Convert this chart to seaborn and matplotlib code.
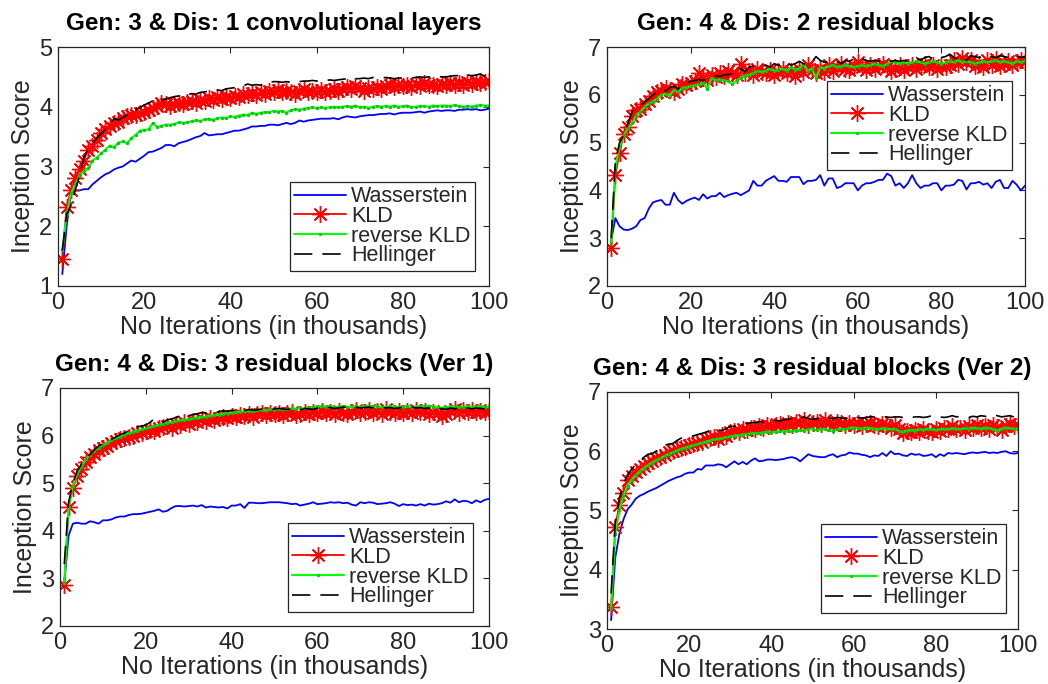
import numpy as np
import pandas as pd
import matplotlib
matplotlib.use("Agg")
import matplotlib.pyplot as plt
import seaborn as sns

# ---------------- data ----------------
iters = list(range(1, 101))
series_names = ["Wasserstein", "KLD", "reverse KLD", "Hellinger"]
titles = [
    "Gen: 3 & Dis: 1 convolutional layers",
    "Gen: 4 & Dis: 2 residual blocks",
    "Gen: 4 & Dis: 3 residual blocks (Ver 1)",
    "Gen: 4 & Dis: 3 residual blocks (Ver 2)",
]
y_limits = [(1, 5), (2, 7), (2, 7), (3, 7)]
x_ticks = [0, 20, 40, 60, 80, 100]

p1_wass = [1.20, 2.00, 2.55, 2.60, 2.60, 2.62, 2.62, 2.70, 2.76, 2.82,
           2.87, 2.90, 2.95, 2.98, 3.00, 3.05, 3.10, 3.08, 3.13, 3.18,
           3.24, 3.25, 3.28, 3.31, 3.36, 3.36, 3.34, 3.39, 3.41, 3.43,
           3.46, 3.49, 3.51, 3.56, 3.52, 3.53, 3.54, 3.54, 3.56, 3.58,
           3.60, 3.60, 3.62, 3.64, 3.67, 3.67, 3.68, 3.68, 3.70, 3.70,
           3.69, 3.71, 3.73, 3.71, 3.73, 3.77, 3.75, 3.77, 3.78, 3.79,
           3.80, 3.80, 3.80, 3.81, 3.79, 3.82, 3.84, 3.83, 3.82, 3.84,
           3.85, 3.86, 3.86, 3.87, 3.88, 3.88, 3.89, 3.87, 3.89, 3.90,
           3.90, 3.90, 3.91, 3.92, 3.90, 3.92, 3.93, 3.94, 3.93, 3.94,
           3.94, 3.93, 3.95, 3.95, 3.96, 3.95, 3.96, 3.94, 3.95, 3.97]
p1_kld = [1.45, 2.33, 2.60, 2.80, 2.96, 3.10, 3.28, 3.35, 3.45, 3.56,
          3.62, 3.67, 3.72, 3.75, 3.82, 3.84, 3.86, 3.87, 3.90, 3.92,
          3.95, 3.98, 4.02, 4.06, 4.04, 4.02, 4.05, 4.07, 4.04, 4.08,
          4.10, 4.06, 4.12, 4.09, 4.14, 4.11, 4.16, 4.13, 4.17, 4.15,
          4.18, 4.16, 4.22, 4.19, 4.23, 4.20, 4.24, 4.22, 4.27, 4.25,
          4.28, 4.24, 4.27, 4.25, 4.22, 4.27, 4.30, 4.24, 4.27, 4.25,
          4.28, 4.24, 4.27, 4.29, 4.26, 4.29, 4.33, 4.30, 4.34, 4.31,
          4.27, 4.32, 4.30, 4.33, 4.30, 4.35, 4.36, 4.33, 4.37, 4.34,
          4.36, 4.33, 4.38, 4.35, 4.39, 4.36, 4.37, 4.34, 4.38, 4.36,
          4.39, 4.37, 4.40, 4.37, 4.41, 4.38, 4.42, 4.39, 4.42, 4.43]
p1_rkld = [1.60, 2.20, 2.55, 2.70, 2.85, 2.93, 2.97, 3.10, 3.15, 3.22,
           3.28, 3.35, 3.32, 3.40, 3.42, 3.39, 3.47, 3.53, 3.60, 3.61,
           3.62, 3.73, 3.66, 3.68, 3.70, 3.70, 3.71, 3.74, 3.73, 3.74,
           3.76, 3.77, 3.76, 3.79, 3.80, 3.78, 3.81, 3.82, 3.81, 3.84,
           3.83, 3.85, 3.87, 3.86, 3.90, 3.88, 3.90, 3.91, 3.91, 3.93,
           3.92, 3.93, 3.90, 3.94, 3.96, 3.95, 3.97, 3.98, 3.99, 3.98,
           3.99, 3.98, 3.99, 4.00, 3.99, 4.00, 4.01, 4.00, 4.02, 3.99,
           4.00, 3.98, 4.00, 4.01, 4.00, 4.01, 4.00, 4.02, 4.00, 4.01,
           4.02, 3.99, 4.00, 4.01, 4.01, 4.00, 4.02, 4.01, 4.02, 4.02,
           4.01, 4.03, 4.01, 4.00, 4.01, 4.00, 4.02, 4.03, 4.02, 4.02]
p1_hell = [1.60, 2.20, 2.35, 2.60, 2.85, 3.15, 3.30, 3.38, 3.48, 3.55,
           3.62, 3.70, 3.80, 3.78, 3.82, 3.86, 3.93, 3.95, 3.98, 4.03,
           4.06, 4.10, 4.10, 4.12, 4.13, 4.15, 4.17, 4.18, 4.18, 4.20,
           4.22, 4.21, 4.24, 4.25, 4.26, 4.27, 4.28, 4.27, 4.30, 4.31,
           4.32, 4.33, 4.35, 4.38, 4.36, 4.37, 4.36, 4.40, 4.41, 4.42,
           4.42, 4.41, 4.42, 4.41, 4.43, 4.42, 4.43, 4.43, 4.44, 4.43,
           4.44, 4.43, 4.45, 4.44, 4.45, 4.46, 4.47, 4.46, 4.47, 4.47,
           4.48, 4.47, 4.49, 4.48, 4.48, 4.49, 4.48, 4.47, 4.48, 4.48,
           4.49, 4.48, 4.49, 4.50, 4.49, 4.50, 4.50, 4.51, 4.50, 4.50,
           4.51, 4.52, 4.52, 4.51, 4.53, 4.52, 4.53, 4.55, 4.51, 4.52]

p2_wass = [2.95, 3.42, 3.25, 3.18, 3.17, 3.20, 3.25, 3.38, 3.42, 3.62,
           3.75, 3.78, 3.80, 3.70, 3.70, 3.95, 3.80, 3.72, 3.78, 3.82,
           3.85, 3.80, 3.92, 3.83, 3.88, 3.88, 3.95, 3.86, 3.90, 3.93,
           3.95, 3.90, 3.95, 4.00, 4.20, 4.10, 4.10, 4.20, 4.25, 4.30,
           4.20, 4.20, 4.18, 4.28, 4.28, 4.28, 4.13, 4.20, 4.20, 4.22,
           4.32, 4.10, 4.25, 4.25, 4.05, 4.08, 4.15, 4.15, 4.15, 4.00,
           4.10, 4.15, 4.15, 4.18, 4.22, 4.22, 4.35, 4.30, 4.10, 4.15,
           4.05, 4.15, 4.32, 4.15, 4.05, 4.10, 4.10, 4.15, 4.15, 4.00,
           4.10, 4.10, 4.12, 4.22, 4.20, 4.02, 4.15, 4.15, 4.18, 4.12,
           4.15, 4.05, 4.18, 4.22, 4.05, 4.05, 4.20, 4.12, 4.00, 4.10]
p2_kld = [2.80, 4.33, 4.78, 5.18, 5.32, 5.55, 5.68, 5.70, 5.80, 5.87,
          5.97, 6.05, 6.08, 6.15, 6.10, 6.05, 6.12, 6.22, 6.20, 6.25,
          6.28, 6.45, 6.35, 6.30, 6.42, 6.38, 6.45, 6.40, 6.50, 6.45,
          6.42, 6.65, 6.45, 6.50, 6.42, 6.55, 6.48, 6.45, 6.52, 6.42,
          6.48, 6.55, 6.45, 6.50, 6.40, 6.55, 6.48, 6.62, 6.52, 6.45,
          6.55, 6.48, 6.62, 6.50, 6.58, 6.65, 6.55, 6.52, 6.60, 6.68,
          6.58, 6.52, 6.62, 6.55, 6.60, 6.65, 6.58, 6.50, 6.55, 6.62,
          6.52, 6.58, 6.62, 6.55, 6.60, 6.65, 6.58, 6.62, 6.55, 6.60,
          6.58, 6.62, 6.72, 6.65, 6.78, 6.68, 6.72, 6.60, 6.65, 6.58,
          6.72, 6.62, 6.75, 6.60, 6.65, 6.70, 6.62, 6.68, 6.72, 6.68]
p2_rkld = [2.90, 4.50, 4.90, 5.15, 5.30, 5.40, 5.58, 5.65, 5.75, 5.82,
           5.85, 5.92, 6.00, 6.02, 5.98, 6.10, 6.05, 6.15, 6.15, 6.18,
           6.20, 6.22, 6.25, 6.12, 6.35, 6.30, 6.32, 6.30, 6.28, 6.22,
           6.30, 6.35, 6.40, 6.42, 6.45, 6.50, 6.48, 6.50, 6.55, 6.50,
           6.52, 6.55, 6.50, 6.58, 6.52, 6.55, 6.65, 6.50, 6.55, 6.35,
           6.58, 6.55, 6.60, 6.62, 6.58, 6.60, 6.62, 6.60, 6.58, 6.60,
           6.62, 6.60, 6.62, 6.65, 6.62, 6.60, 6.65, 6.70, 6.68, 6.65,
           6.68, 6.65, 6.68, 6.70, 6.68, 6.65, 6.68, 6.70, 6.68, 6.65,
           6.68, 6.70, 6.68, 6.72, 6.68, 6.70, 6.68, 6.65, 6.68, 6.70,
           6.68, 6.70, 6.72, 6.68, 6.70, 6.68, 6.65, 6.70, 6.68, 6.70]
p2_hell = [3.00, 4.60, 5.00, 5.15, 5.40, 5.65, 5.70, 5.78, 5.85, 5.92,
           6.00, 6.05, 6.12, 6.08, 6.15, 6.18, 6.12, 6.22, 6.25, 6.28,
           6.30, 6.32, 6.30, 6.35, 6.38, 6.40, 6.38, 6.42, 6.42, 6.45,
           6.42, 6.55, 6.48, 6.58, 6.60, 6.58, 6.60, 6.62, 6.58, 6.65,
           6.62, 6.65, 6.68, 6.62, 6.65, 6.70, 6.65, 6.62, 6.68, 6.80,
           6.72, 6.68, 6.70, 6.72, 6.70, 6.65, 6.72, 6.70, 6.75, 6.72,
           6.75, 6.72, 6.70, 6.72, 6.70, 6.72, 6.75, 6.70, 6.72, 6.70,
           6.72, 6.70, 6.75, 6.78, 6.72, 6.78, 6.80, 6.75, 6.72, 6.78,
           6.80, 6.85, 6.78, 6.75, 6.80, 6.72, 6.82, 6.80, 6.78, 6.80,
           6.82, 6.80, 6.78, 6.82, 6.80, 6.78, 6.80, 6.82, 6.78, 6.80]

p3_wass = [2.90, 3.90, 4.15, 4.17, 4.15, 4.15, 4.20, 4.18, 4.15, 4.22,
           4.22, 4.24, 4.28, 4.30, 4.30, 4.33, 4.35, 4.35, 4.36, 4.38,
           4.40, 4.42, 4.45, 4.40, 4.42, 4.48, 4.52, 4.52, 4.51, 4.52,
           4.53, 4.51, 4.54, 4.49, 4.51, 4.50, 4.49, 4.50, 4.47, 4.53,
           4.53, 4.56, 4.48, 4.59, 4.59, 4.58, 4.58, 4.59, 4.60, 4.60,
           4.60, 4.59, 4.58, 4.56, 4.57, 4.53, 4.55, 4.57, 4.60, 4.56,
           4.57, 4.58, 4.60, 4.59, 4.60, 4.58, 4.59, 4.55, 4.53, 4.60,
           4.58, 4.60, 4.59, 4.56, 4.57, 4.58, 4.60, 4.57, 4.52, 4.56,
           4.54, 4.55, 4.53, 4.56, 4.53, 4.57, 4.55, 4.56, 4.58, 4.62,
           4.59, 4.66, 4.60, 4.63, 4.62, 4.58, 4.64, 4.60, 4.65, 4.67]
p3_kld = [2.87, 4.50, 4.90, 5.15, 5.30, 5.45, 5.55, 5.62, 5.70, 5.75,
          5.78, 5.85, 5.88, 5.92, 5.95, 5.98, 6.00, 6.05, 6.06, 6.10,
          6.12, 6.10, 6.16, 6.18, 6.20, 6.17, 6.24, 6.22, 6.28, 6.25,
          6.30, 6.28, 6.34, 6.31, 6.38, 6.33, 6.37, 6.40, 6.36, 6.42,
          6.40, 6.44, 6.41, 6.46, 6.40, 6.45, 6.48, 6.43, 6.47, 6.45,
          6.48, 6.44, 6.47, 6.50, 6.43, 6.46, 6.49, 6.45, 6.50, 6.47,
          6.52, 6.48, 6.50, 6.46, 6.52, 6.48, 6.45, 6.50, 6.53, 6.47,
          6.50, 6.54, 6.48, 6.52, 6.46, 6.55, 6.50, 6.47, 6.52, 6.48,
          6.51, 6.47, 6.53, 6.49, 6.52, 6.46, 6.50, 6.48, 6.42, 6.45,
          6.52, 6.55, 6.48, 6.53, 6.50, 6.54, 6.49, 6.52, 6.50, 6.52]
p3_rkld = [2.90, 4.50, 4.95, 5.20, 5.35, 5.50, 5.60, 5.68, 5.75, 5.80,
           5.85, 5.90, 5.95, 5.98, 6.02, 6.05, 6.08, 6.10, 6.13, 6.15,
           6.18, 6.20, 6.22, 6.25, 6.27, 6.28, 6.30, 6.32, 6.33, 6.35,
           6.36, 6.38, 6.39, 6.40, 6.42, 6.43, 6.44, 6.46, 6.47, 6.48,
           6.49, 6.50, 6.51, 6.52, 6.52, 6.53, 6.54, 6.53, 6.55, 6.55,
           6.56, 6.55, 6.56, 6.57, 6.56, 6.58, 6.57, 6.58, 6.60, 6.62,
           6.62, 6.61, 6.62, 6.60, 6.61, 6.62, 6.60, 6.61, 6.62, 6.60,
           6.62, 6.63, 6.61, 6.62, 6.60, 6.61, 6.62, 6.61, 6.60, 6.61,
           6.62, 6.60, 6.61, 6.62, 6.62, 6.63, 6.61, 6.60, 6.58, 6.60,
           6.61, 6.62, 6.60, 6.61, 6.62, 6.60, 6.61, 6.62, 6.60, 6.61]
p3_hell = [3.30, 4.60, 5.00, 5.25, 5.40, 5.52, 5.60, 5.70, 5.78, 5.83,
           5.88, 5.92, 5.97, 6.02, 6.05, 6.10, 6.15, 6.18, 6.20, 6.22,
           6.28, 6.35, 6.30, 6.28, 6.33, 6.35, 6.38, 6.42, 6.40, 6.42,
           6.44, 6.46, 6.48, 6.48, 6.47, 6.48, 6.50, 6.52, 6.51, 6.53,
           6.52, 6.54, 6.52, 6.55, 6.53, 6.54, 6.56, 6.55, 6.54, 6.56,
           6.57, 6.56, 6.55, 6.57, 6.56, 6.54, 6.57, 6.56, 6.55, 6.58,
           6.60, 6.58, 6.59, 6.57, 6.58, 6.60, 6.59, 6.58, 6.60, 6.58,
           6.59, 6.60, 6.58, 6.59, 6.60, 6.58, 6.59, 6.57, 6.58, 6.60,
           6.59, 6.60, 6.58, 6.59, 6.57, 6.58, 6.55, 6.58, 6.56, 6.55,
           6.58, 6.56, 6.59, 6.57, 6.58, 6.56, 6.58, 6.57, 6.56, 6.57]

p4_wass = [3.15, 4.20, 4.60, 4.85, 5.02, 5.10, 5.20, 5.25, 5.28, 5.32,
           5.35, 5.38, 5.42, 5.46, 5.50, 5.53, 5.56, 5.58, 5.62, 5.64,
           5.64, 5.70, 5.69, 5.76, 5.76, 5.76, 5.78, 5.77, 5.73, 5.78,
           5.83, 5.78, 5.82, 5.78, 5.84, 5.88, 5.83, 5.84, 5.86, 5.86,
           5.85, 5.86, 5.87, 5.89, 5.90, 5.88, 5.83, 5.89, 5.95, 5.92,
           5.91, 5.90, 5.90, 5.93, 5.95, 5.90, 5.93, 5.94, 5.98, 5.96,
           5.96, 5.94, 5.93, 5.90, 5.93, 5.92, 5.97, 5.92, 6.00, 5.95,
           5.96, 5.93, 5.92, 5.96, 5.94, 5.95, 5.92, 5.93, 5.95, 5.90,
           5.95, 5.92, 5.97, 5.96, 5.97, 5.96, 5.95, 5.97, 5.98, 5.97,
           5.98, 5.99, 5.97, 5.98, 5.97, 5.99, 6.00, 5.97, 5.96, 5.97]
p4_kld = [3.37, 4.72, 5.10, 5.30, 5.52, 5.58, 5.65, 5.70, 5.75, 5.80,
          5.84, 5.88, 5.90, 5.94, 5.98, 6.00, 6.03, 6.06, 6.08, 6.10,
          6.12, 6.14, 6.16, 6.20, 6.22, 6.24, 6.20, 6.28, 6.25, 6.32,
          6.35, 6.33, 6.38, 6.36, 6.40, 6.38, 6.42, 6.40, 6.45, 6.42,
          6.44, 6.46, 6.42, 6.48, 6.45, 6.50, 6.47, 6.52, 6.45, 6.48,
          6.50, 6.46, 6.52, 6.48, 6.45, 6.50, 6.47, 6.44, 6.48, 6.45,
          6.47, 6.43, 6.46, 6.48, 6.45, 6.42, 6.46, 6.44, 6.40, 6.45,
          6.38, 6.30, 6.34, 6.32, 6.36, 6.33, 6.38, 6.35, 6.33, 6.37,
          6.35, 6.40, 6.37, 6.42, 6.38, 6.40, 6.36, 6.42, 6.39, 6.44,
          6.40, 6.43, 6.38, 6.45, 6.41, 6.36, 6.42, 6.46, 6.43, 6.44]
p4_rkld = [3.35, 4.60, 5.00, 5.25, 5.42, 5.52, 5.60, 5.66, 5.72, 5.77,
           5.81, 5.85, 5.88, 5.92, 5.95, 5.98, 6.01, 6.04, 6.06, 6.08,
           6.10, 6.12, 6.14, 6.16, 6.18, 6.20, 6.21, 6.22, 6.24, 6.25,
           6.26, 6.27, 6.28, 6.29, 6.30, 6.31, 6.30, 6.32, 6.33, 6.32,
           6.33, 6.34, 6.33, 6.35, 6.34, 6.35, 6.36, 6.35, 6.37, 6.38,
           6.36, 6.37, 6.38, 6.36, 6.34, 6.37, 6.38, 6.37, 6.39, 6.40,
           6.39, 6.38, 6.40, 6.39, 6.38, 6.37, 6.39, 6.38, 6.37, 6.38,
           6.34, 6.32, 6.35, 6.36, 6.35, 6.37, 6.36, 6.38, 6.37, 6.36,
           6.37, 6.38, 6.37, 6.39, 6.38, 6.37, 6.39, 6.38, 6.40, 6.39,
           6.38, 6.40, 6.39, 6.37, 6.35, 6.38, 6.40, 6.39, 6.38, 6.38]
p4_hell = [3.60, 4.80, 5.20, 5.45, 5.60, 5.70, 5.78, 5.82, 5.90, 5.95,
           5.96, 6.00, 6.05, 6.10, 6.12, 6.13, 6.18, 6.22, 6.23, 6.25,
           6.26, 6.28, 6.30, 6.32, 6.35, 6.38, 6.36, 6.35, 6.38, 6.42,
           6.42, 6.43, 6.45, 6.47, 6.48, 6.48, 6.50, 6.49, 6.51, 6.50,
           6.52, 6.51, 6.53, 6.54, 6.55, 6.57, 6.56, 6.58, 6.55, 6.54,
           6.55, 6.56, 6.55, 6.56, 6.55, 6.57, 6.56, 6.55, 6.57, 6.58,
           6.57, 6.56, 6.57, 6.58, 6.58, 6.57, 6.58, 6.58, 6.57, 6.58,
           6.58, 6.57, 6.58, 6.57, 6.58, 6.58, 6.57, 6.58, 6.60, 6.59,
           6.58, 6.57, 6.58, 6.60, 6.58, 6.59, 6.58, 6.57, 6.59, 6.58,
           6.60, 6.59, 6.58, 6.61, 6.60, 6.58, 6.59, 6.60, 6.58, 6.58]

panels = [
    (p1_wass, p1_kld, p1_rkld, p1_hell),
    (p2_wass, p2_kld, p2_rkld, p2_hell),
    (p3_wass, p3_kld, p3_rkld, p3_hell),
    (p4_wass, p4_kld, p4_rkld, p4_hell),
]

# ---------------- style ----------------
sns.set_theme(style="white")
plt.rcParams["font.family"] = ["Liberation Sans", "DejaVu Sans"]
DARK = "#262626"
plt.rcParams.update({
    "axes.edgecolor": DARK,
    "axes.labelcolor": DARK,
    "xtick.color": DARK,
    "ytick.color": DARK,
    "text.color": DARK,
    "axes.linewidth": 0.9,
})

W, H = 1048, 684
fig = plt.figure(figsize=(W / 100, H / 100), dpi=100)

# axes boxes in pixels: left, top, right, bottom
boxes = [(58, 47, 489, 286), (607, 47, 1025, 286),
         (60, 388, 489, 626), (607, 392, 1018, 629)]
# legend upper-left corners in pixels
leg_pos = [(290, 182), (827, 81), (288, 523), (821, 524)]

styles = [
    dict(color=(0, 0, 1), lw=1.3),
    dict(color=(1, 0, 0), lw=1.3, marker=(8, 2, 0), markersize=12,
         markeredgewidth=1.0, markeredgecolor=(1, 0, 0)),
    dict(color=(0, 1, 0), lw=1.5, marker="o", markersize=2.4,
         markeredgewidth=0, markerfacecolor=(0, 0.8, 0)),
    dict(color="black", lw=1.2, linestyle=(0, (11, 6))),
]

for i, (vals, title, ylim, box, lp) in enumerate(
        zip(panels, titles, y_limits, boxes, leg_pos)):
    l, t, r, b = box
    ax = fig.add_axes([l / W, 1 - b / H, (r - l) / W, (b - t) / H])
    for name, yv, st in zip(series_names, vals, styles):
        sns.lineplot(x=iters, y=yv, ax=ax, label=name, legend=False,
                     estimator=None, **st)
    ax.set_xlim(0, 100)
    ax.set_ylim(*ylim)
    ax.set_xticks(x_ticks)
    ax.set_yticks(np.arange(ylim[0], ylim[1] + 1, 1))
    ax.tick_params(direction="in", top=True, right=True, length=4,
                   width=0.8, labelsize=17, pad=4)
    for s in ax.spines.values():
        s.set_visible(True)
        s.set_color(DARK)
    ax.set_xlabel("No Iterations (in thousands)", fontsize=18, labelpad=1)
    ax.set_ylabel("Inception Score", fontsize=18, labelpad=3)
    ax.set_title(title, fontsize=17.5, fontweight="bold", color="black", pad=12)
    leg = ax.legend(loc="upper left",
                    bbox_to_anchor=(lp[0] / W, 1 - lp[1] / H),
                    bbox_transform=fig.transFigure,
                    borderaxespad=0, fontsize=15.5, frameon=True,
                    fancybox=False, framealpha=1, edgecolor=DARK,
                    handlelength=2.4, handletextpad=0.25,
                    labelspacing=-0.06, borderpad=0.2)
    leg.get_frame().set_linewidth(0.9)

fig.savefig("out.png", dpi=100)
